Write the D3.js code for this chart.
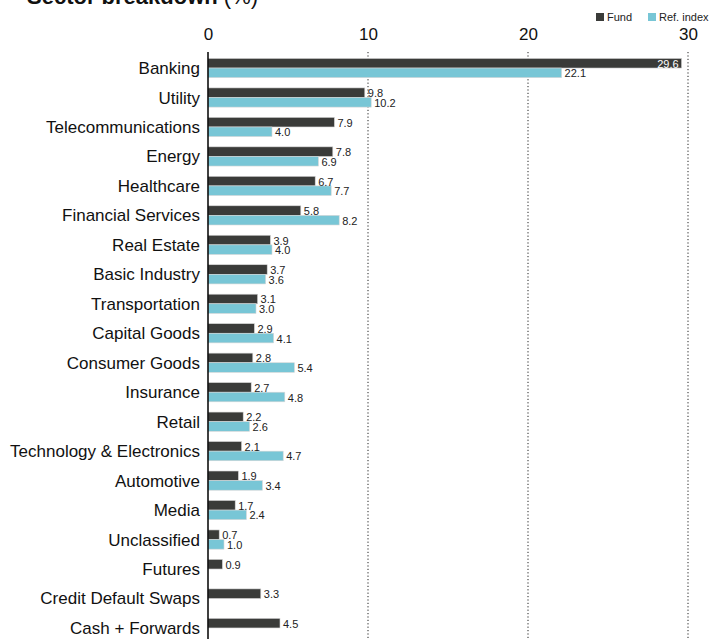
<!DOCTYPE html>
<html>
<head>
<meta charset="utf-8">
<script src="https://cdn.jsdelivr.net/npm/d3@7"></script>
<style>
  body { margin: 0; background: #fff; }
  svg { display: block; font-family: "Liberation Sans", Arial, sans-serif; }
</style>
</head>
<body>
<div id="chart"></div>
<script>
var categories = ["Banking", "Utility", "Telecommunications", "Energy", "Healthcare",
  "Financial Services", "Real Estate", "Basic Industry", "Transportation", "Capital Goods",
  "Consumer Goods", "Insurance", "Retail", "Technology & Electronics", "Automotive",
  "Media", "Unclassified", "Futures", "Credit Default Swaps", "Cash + Forwards"];
var fund = [29.6, 9.8, 7.9, 7.8, 6.7, 5.8, 3.9, 3.7, 3.1, 2.9, 2.8, 2.7, 2.2, 2.1, 1.9, 1.7, 0.7, 0.9, 3.3, 4.5];
var refIndex = [22.1, 10.2, 4.0, 6.9, 7.7, 8.2, 4.0, 3.6, 3.0, 4.1, 5.4, 4.8, 2.6, 4.7, 3.4, 2.4, 1.0, null, null, null];
var ticks = [0, 10, 20, 30];

var width = 721, height = 639;
var fundColor = "#3a3b39", refColor = "#78c6d6";

var svg = d3.select("#chart").append("svg")
    .attr("width", width)
    .attr("height", height);

var x = d3.scaleLinear().domain([0, 30]).range([208, 688]);
var y = d3.scaleBand().domain(categories).range([53.3, 642.7]);
var barH = 9.6;

// title
var title = svg.append("text")
  .attr("x", 27)
  .attr("y", 4)
  .attr("font-size", 22)
  .attr("fill", "#111");
title.append("tspan").attr("font-weight", "bold").text("Sector breakdown ");
title.append("tspan").text("(%)");

// legend
var legend = [{name: "Fund", color: fundColor, x: 596}, {name: "Ref. index", color: refColor, x: 648}];
legend.forEach(function(l) {
  svg.append("rect").attr("x", l.x).attr("y", 13).attr("width", 8).attr("height", 8).attr("fill", l.color);
  svg.append("text").attr("x", l.x + 11).attr("y", 21).attr("font-size", 11).attr("fill", "#222").text(l.name);
});

// top axis
var axis = svg.append("g")
  .attr("transform", "translate(0,40)")
  .call(d3.axisTop(x).tickValues(ticks).tickSize(0).tickPadding(0).tickFormat(d3.format("d")));
axis.select(".domain").remove();
axis.selectAll("text").attr("font-size", 17).attr("fill", "#111").attr("font-family", "Liberation Sans, Arial, sans-serif");

// dotted grid
svg.append("g").selectAll("line")
  .data(ticks.slice(1))
  .enter().append("line")
  .attr("x1", function(d) { return x(d); })
  .attr("x2", function(d) { return x(d); })
  .attr("y1", 52)
  .attr("y2", height)
  .attr("stroke", "#222")
  .attr("stroke-width", 1)
  .attr("stroke-dasharray", "1.2,2.2");

var rows = categories.map(function(c, i) { return {cat: c, fund: fund[i], ref: refIndex[i]}; });

var g = svg.append("g");

// category labels
g.selectAll(".cat")
  .data(rows)
  .enter().append("text")
  .attr("class", "cat")
  .attr("x", 200)
  .attr("y", function(d) { return y(d.cat) + y.bandwidth() / 2 + 6; })
  .attr("text-anchor", "end")
  .attr("font-size", 17)
  .attr("fill", "#111")
  .text(function(d) { return d.cat; });

// fund bars
g.selectAll(".fund")
  .data(rows)
  .enter().append("rect")
  .attr("class", "fund")
  .attr("x", x(0))
  .attr("y", function(d) { return y(d.cat) + y.bandwidth() / 2 - barH; })
  .attr("width", function(d) { return x(d.fund) - x(0); })
  .attr("height", barH)
  .attr("fill", fundColor)
  .attr("stroke", "#d6d6d6")
  .attr("stroke-width", 0.6);

// ref bars
g.selectAll(".ref")
  .data(rows.filter(function(d) { return d.ref != null; }))
  .enter().append("rect")
  .attr("class", "ref")
  .attr("x", x(0))
  .attr("y", function(d) { return y(d.cat) + y.bandwidth() / 2; })
  .attr("width", function(d) { return x(d.ref) - x(0); })
  .attr("height", barH)
  .attr("fill", refColor)
  .attr("stroke", "#d6d6d6")
  .attr("stroke-width", 0.6);

// value labels
g.selectAll(".fundLbl")
  .data(rows)
  .enter().append("text")
  .attr("class", "fundLbl")
  .attr("x", function(d) { return d.fund > 25 ? x(d.fund) - 3 : x(d.fund) + 3; })
  .attr("y", function(d) { return y(d.cat) + y.bandwidth() / 2 - barH / 2 + 4.5; })
  .attr("text-anchor", function(d) { return d.fund > 25 ? "end" : "start"; })
  .attr("font-size", 11)
  .attr("fill", function(d) { return d.fund > 25 ? "#fff" : "#222"; })
  .text(function(d) { return d.fund.toFixed(1); });

g.selectAll(".refLbl")
  .data(rows.filter(function(d) { return d.ref != null; }))
  .enter().append("text")
  .attr("class", "refLbl")
  .attr("x", function(d) { return x(d.ref) + 3; })
  .attr("y", function(d) { return y(d.cat) + y.bandwidth() / 2 + barH / 2 + 4.5; })
  .attr("font-size", 11)
  .attr("fill", "#222")
  .text(function(d) { return d.ref.toFixed(1); });

// zero line
svg.append("line")
  .attr("x1", x(0)).attr("x2", x(0))
  .attr("y1", 52).attr("y2", height)
  .attr("stroke", "#000")
  .attr("stroke-width", 1.5);
</script>
</body>
</html>
